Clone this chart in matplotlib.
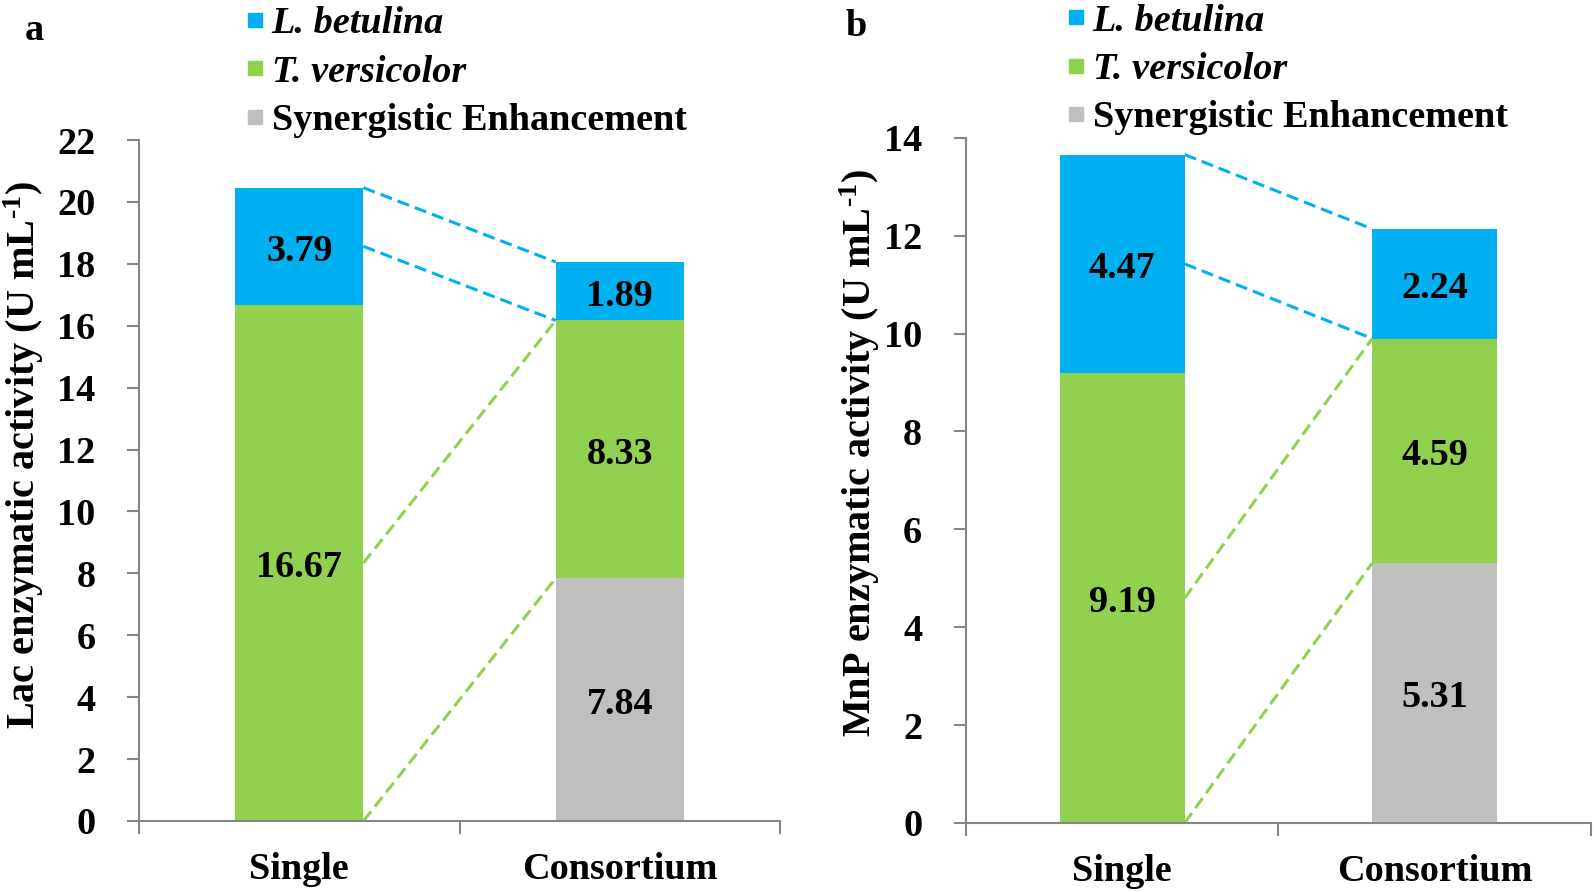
import numpy as np
import matplotlib.pyplot as plt
from matplotlib.lines import Line2D

plt.rcParams['font.family'] = ['Liberation Serif', 'DejaVu Serif']
plt.rcParams['font.weight'] = 'bold'
plt.rcParams['axes.labelweight'] = 'bold'
plt.rcParams['mathtext.fontset'] = 'custom'
plt.rcParams['mathtext.rm'] = 'Liberation Serif:bold'
plt.rcParams['mathtext.bf'] = 'Liberation Serif:bold'
plt.rcParams['mathtext.default'] = 'bf'

# data
categories = ['Single', 'Consortium']
lac_betulina = [3.79, 1.89]
lac_versicolor = [16.67, 8.33]
lac_synergy = [0.0, 7.84]
mnp_betulina = [4.47, 2.24]
mnp_versicolor = [9.19, 4.59]
mnp_synergy = [0.0, 5.31]

blue = '#00B0F0'
green = '#92D050'
grey = '#BFBFBF'
axis_grey = '#868686'
fs = 27.5
bar_w = 0.4


def draw_panel(ax, betulina, versicolor, synergy, ymax, ylabel, label_xy):
    x = np.arange(len(categories))
    syn = np.array(synergy)
    ver = np.array(versicolor)
    bet = np.array(betulina)
    ax.bar(x, syn, bar_w, color=grey, linewidth=0)
    ax.bar(x, ver, bar_w, bottom=syn, color=green, linewidth=0)
    ax.bar(x, bet, bar_w, bottom=syn + ver, color=blue, linewidth=0)

    # value labels in the middle of each segment
    for i in range(len(x)):
        segs = [(syn[i], 0), (ver[i], syn[i]), (bet[i], syn[i] + ver[i])]
        for val, base in segs:
            if val > 0:
                ax.annotate(f'{val:.2f}', (x[i], base + val / 2), xytext=(0, -3.5),
                            textcoords='offset points', ha='center', va='center',
                            fontsize=fs, fontweight='bold')

    # dashed connectors single -> consortium
    tot = syn + ver + bet
    y_single = [tot[0], tot[0] - bet[0] / 2, ver[0] / 2 + syn[0], syn[0]]
    y_cons = [tot[1], syn[1] + ver[1], syn[1] + ver[1], syn[1]]
    cols = [blue, blue, green, green]
    for ys, yc, c in zip(y_single, y_cons, cols):
        ax.plot([x[0] + bar_w / 2, x[1] - bar_w / 2], [ys, yc], color=c, lw=2.2,
                linestyle=(0, (4, 2)), zorder=1)

    ax.set_xlim(-0.5, 1.5)
    ax.set_ylim(0, ymax)
    ax.set_yticks(np.arange(0, ymax + 1, 2))
    ax.set_xticks(x)
    ax.set_xticklabels(categories)
    ax.set_xticks([-0.5, 0.5, 1.5], minor=True)
    ax.tick_params(axis='x', which='major', length=0, pad=22, labelsize=fs)
    ax.tick_params(axis='x', which='minor', length=9, width=1.5, color=axis_grey)
    ax.tick_params(axis='y', length=8.5, width=1.5, color=axis_grey, pad=23, labelsize=fs)
    for lab in ax.get_xticklabels() + ax.get_yticklabels():
        lab.set_fontweight('bold')
    for s in ['top', 'right']:
        ax.spines[s].set_visible(False)
    for s in ['left', 'bottom']:
        ax.spines[s].set_color(axis_grey)
        ax.spines[s].set_linewidth(1.5)
    ax.set_ylabel(ylabel, fontsize=29, fontweight='bold')
    ax.yaxis.set_label_coords(*label_xy)


fig = plt.figure(figsize=(15.94, 8.92), dpi=100)
ax1 = fig.add_axes([0.0873, 0.0796, 0.402, 0.7634])
ax2 = fig.add_axes([0.606, 0.0774, 0.392, 0.768])

draw_panel(ax1, lac_betulina, lac_versicolor, lac_synergy, 22,
           'Lac enzymatic activity (U mL$^{\\text{-1}}$)', (-0.145, 0.537))
draw_panel(ax2, mnp_betulina, mnp_versicolor, mnp_synergy, 14,
           'MnP enzymatic activity (U mL$^{\\text{-1}}$)', (-0.134, 0.54))

fig.text(34 / 1594, 1 - 30 / 892, 'a', fontsize=fs, fontweight='bold', ha='center', va='center')
fig.text(856 / 1594, 1 - 27 / 892, 'b', fontsize=fs, fontweight='bold', ha='center', va='center')

handles = [Line2D([], [], marker='s', linestyle='none', markersize=9.5, color=c)
           for c in (blue, green, grey)]
names = ['L. betulina', 'T. versicolor', 'Synergistic Enhancement']
for ax, anchor in ((ax1, (245 / 1594, 0.993)), (ax2, (1066 / 1594, 0.996))):
    leg = fig.legend(handles, names, loc='upper left', bbox_to_anchor=anchor,
                     frameon=False, handlelength=0.5, handletextpad=0.2,
                     labelspacing=0.35, borderpad=0, borderaxespad=0,
                     prop={'weight': 'bold', 'size': fs})
    leg.get_texts()[0].set_style('italic')
    leg.get_texts()[1].set_style('italic')

fig.savefig('out.png', dpi=100)
